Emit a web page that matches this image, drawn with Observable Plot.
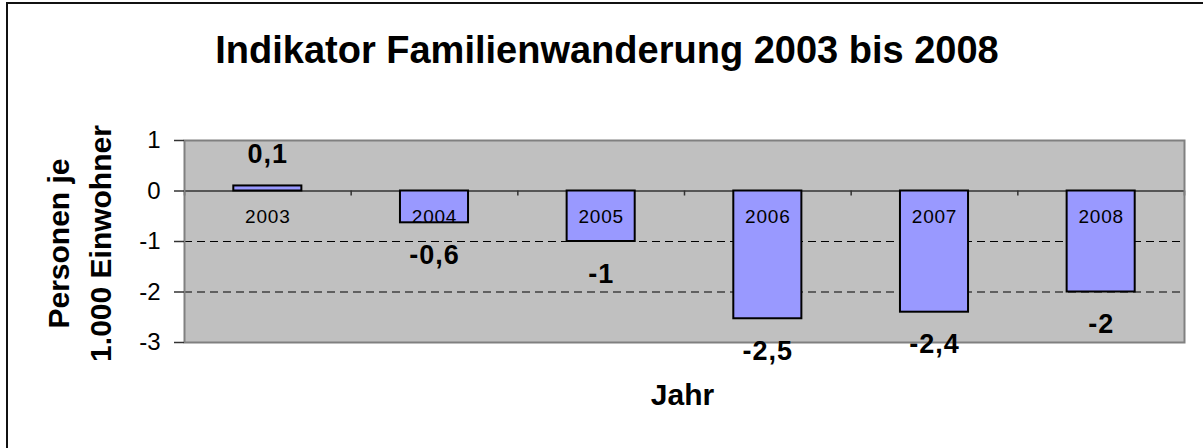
<!DOCTYPE html>
<html>
<head>
<meta charset="utf-8">
<script src="https://cdn.jsdelivr.net/npm/d3@7"></script>
<script src="https://cdn.jsdelivr.net/npm/@observablehq/plot@0.6"></script>
<style>
  html, body { margin: 0; padding: 0; background: #fff; overflow: hidden; }
  #wrap { position: relative; width: 1203px; height: 448px; }
  #border { position: absolute; left: 6px; top: 2px; right: 0; bottom: 0;
            border-left: 2px solid #111; border-top: 2px solid #111; pointer-events: none; }
  #chart { position: absolute; left: 0; top: 0; }
  .yearlbl text { letter-spacing: 0.8px; }
  .vallbl text { letter-spacing: 1px; }
</style>
</head>
<body>
<div id="wrap"><div id="chart"></div><div id="border"></div></div>
<script>
// Data
const years = ["2003", "2004", "2005", "2006", "2007", "2008"];
const values = [0.1, -0.63, -1, -2.53, -2.4, -2];
const yTicks = [1, 0, -1, -2, -3];
const gridLines = [-1, -2];
const title = "Indikator Familienwanderung 2003 bis 2008";
const yTitle = "Personen je\n1.000 Einwohner";
const xTitle = "Jahr";

const rows = years.map((year, i) => ({year, i, v: values[i]}));
const boundaries = d3.range(0, years.length + 1);
const fmt = v => String(Math.round(v * 10) / 10).replace(".", ",");

const inset = 49.3;
const chart = Plot.plot({
  width: 1203,
  height: 448,
  marginLeft: 184,
  marginRight: 19,
  marginTop: 140,
  marginBottom: 106,
  style: {fontFamily: "'Liberation Sans', Arial, sans-serif", background: "transparent", color: "#000"},
  x: {domain: [0, years.length], axis: null},
  y: {domain: [-3, 1], axis: null},
  marks: [
    Plot.frame({fill: "#c0c0c0", stroke: null}),
    Plot.ruleY(gridLines, {stroke: "#000", strokeWidth: 1, strokeDasharray: "8,5"}),
    Plot.ruleY([0], {stroke: "#333", strokeWidth: 1.5}),
    Plot.ruleX(boundaries, {x: d => d, y1: 0, y2: 0, insetBottom: -5, stroke: "#333", strokeWidth: 1.5}),
    Plot.rect(rows, {x1: d => d.i, x2: d => d.i + 1, y1: 0, y2: "v", insetLeft: inset, insetRight: inset,
      fill: "#9999ff", stroke: "#000", strokeWidth: 2}),
    Plot.frame({stroke: "#808080", strokeWidth: 2}),
    Plot.axisY({ticks: yTicks, tickSize: 10, tickPadding: 14, fontSize: 24, tickFormat: d => String(d),
      label: null, stroke: "#333", strokeWidth: 1.5}),
    // category labels just below the zero line
    Plot.text(rows, {x: d => d.i + 0.5, y: 0, text: "year", lineAnchor: "bottom", dy: 32,
      fontSize: 19, fill: "#000", className: "yearlbl"}),
    // value labels
    Plot.text(rows.filter(d => d.v >= 0), {x: d => d.i + 0.5, y: "v", text: d => fmt(d.v), lineAnchor: "bottom",
      dy: -23, fontSize: 27, fontWeight: "bold", fill: "#000", className: "vallbl"}),
    Plot.text(rows.filter(d => d.v < 0), {x: d => d.i + 0.5, y: "v", text: d => fmt(d.v), lineAnchor: "top",
      dy: 22, fontSize: 27, fontWeight: "bold", fill: "#000", className: "vallbl"}),
    // titles
    Plot.text([title], {frameAnchor: "top", text: d => d, textAnchor: "middle", lineAnchor: "bottom", dy: -78, dx: -77.5,
      fontSize: 38, fontWeight: "bold", fill: "#000"}),
    Plot.text([yTitle], {frameAnchor: "left", text: d => d, rotate: -90, textAnchor: "middle", lineAnchor: "bottom",
      lineHeight: 1.39, dx: -74, dy: 2, fontSize: 30, fontWeight: "bold", fill: "#000"}),
    Plot.text([xTitle], {frameAnchor: "bottom", text: d => d, textAnchor: "middle", lineAnchor: "bottom", dy: 62, dx: -2,
      fontSize: 30, fontWeight: "bold", fill: "#000"})
  ]
});
document.getElementById("chart").appendChild(chart);
</script>
</body>
</html>
